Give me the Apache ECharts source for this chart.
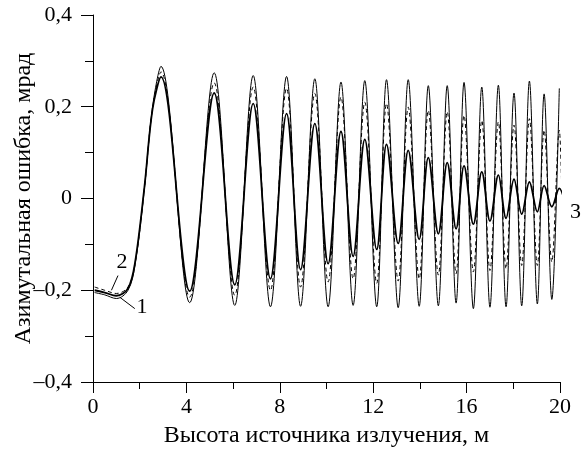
<!DOCTYPE html>
<html>
<head>
<meta charset="utf-8">
<script src="https://cdn.jsdelivr.net/npm/echarts@6/dist/echarts.min.js"></script>
<style>
html, body { margin: 0; padding: 0; background: #fff; }
#main { width: 585px; height: 451px; }
</style>
</head>
<body>
<div id="main"></div>
<script>
// высота источника, м (начало и экстремумы кривых)
const heights = [0.07, 0.5, 1.0, 1.5, 1.8, 2.2, 2.55, 2.91, 4.14, 5.19, 6.07, 6.86, 7.6, 8.29, 8.89, 9.5,
  10.07, 10.62, 11.14, 11.64, 12.15, 12.57, 13.07, 13.5, 13.97, 14.36, 14.79, 15.17, 15.55, 15.89,
  16.29, 16.65, 17.0, 17.36, 17.69, 18.03, 18.36, 18.69, 19.03, 19.32, 19.65, 19.97]

// азимутальная ошибка, мрад
const curve1 = [-0.205, -0.21, -0.218, -0.2, -0.145, 0.02, 0.2, 0.288, -0.227, 0.274, -0.233, 0.268,
  -0.236, 0.266, -0.235, 0.261, -0.236, 0.254, -0.233, 0.257, -0.236, 0.259, -0.238, 0.259, -0.235,
  0.246, -0.234, 0.246, -0.228, 0.253, -0.24, 0.243, -0.237, 0.247, -0.236, 0.23, -0.234, 0.256,
  -0.23, 0.228, -0.22, 0.24]
const curve2 = [-0.193, -0.2, -0.207, -0.193, -0.142, 0.022, 0.198, 0.276, -0.215, 0.252, -0.211, 0.243,
  -0.2, 0.24, -0.193, 0.229, -0.182, 0.221, -0.175, 0.21, -0.185, 0.207, -0.18, 0.199, -0.175,
  0.192, -0.167, 0.189, -0.164, 0.181, -0.16, 0.17, -0.157, 0.167, -0.153, 0.16, -0.146, 0.174,
  -0.146, 0.149, -0.138, 0.149]
const curve3 = [-0.2, -0.205, -0.212, -0.196, -0.14, 0.024, 0.195, 0.265, -0.202, 0.23, -0.188, 0.207,
  -0.175, 0.185, -0.155, 0.163, -0.142, 0.146, -0.126, 0.129, -0.111, 0.118, -0.098, 0.105, -0.089,
  0.089, -0.077, 0.078, -0.066, 0.071, -0.056, 0.058, -0.049, 0.051, -0.043, 0.042, -0.034, 0.036,
  -0.029, 0.028, -0.018, 0.022]
// хвосты кривых 2 и 3 за последним экстремумом
const curve2Tail = [20.07, 0.03]
const curve3Tail = [20.25, -0.02]

const xTicks = [0, 4, 8, 12, 16, 20]
const yTicks = [-0.4, -0.2, 0, 0.2, 0.4]

const font = 'Liberation Serif'
const fs = 22 // подписи делений
const nameFs = 24 // подписи осей

function pairs(ys) {
  return heights.map((h, i) => [h, ys[i]])
}
function fmt(v) {
  return String(Math.round(v * 10) / 10).replace('.', ',').replace('-', '–')
}

const chart = echarts.init(document.getElementById('main'))
chart.setOption({
  animation: false,
  grid: { left: 93, right: 25, top: 15, bottom: 69, containLabel: false, outerBoundsMode: 'none' },
  xAxis: {
    type: 'value',
    min: xTicks[0],
    max: xTicks[xTicks.length - 1],
    interval: xTicks[1] - xTicks[0],
    name: 'Высота источника излучения, м',
    nameLocation: 'middle',
    nameGap: 42,
    nameMoveOverlap: false,
    nameTextStyle: { color: '#000', fontFamily: font, fontSize: nameFs },
    axisLine: { onZero: false, lineStyle: { color: '#000', width: 1 } },
    axisTick: { inside: false, length: 11, lineStyle: { color: '#000' } },
    minorTick: { show: true, splitNumber: 2, length: 7, lineStyle: { color: '#000' } },
    axisLabel: { color: '#000', fontFamily: font, fontSize: fs, margin: 14, formatter: fmt },
    splitLine: { show: false }
  },
  yAxis: {
    type: 'value',
    min: yTicks[0],
    max: yTicks[yTicks.length - 1],
    interval: yTicks[1] - yTicks[0],
    name: 'Азимутальная ошибка, мрад',
    nameLocation: 'middle',
    nameGap: 57,
    nameMoveOverlap: false,
    nameTextStyle: { color: '#000', fontFamily: font, fontSize: nameFs },
    axisLine: { show: true, onZero: false, lineStyle: { color: '#000', width: 1 } },
    axisTick: { show: true, inside: false, length: 12, lineStyle: { color: '#000' } },
    minorTick: { show: true, splitNumber: 2, length: 8, lineStyle: { color: '#000' } },
    axisLabel: { color: '#000', fontFamily: font, fontSize: fs, margin: 21, formatter: fmt },
    splitLine: { show: false }
  },
  series: [{
    name: '1',
    type: 'line',
    data: pairs(curve1),
    smooth: 0.35,
    showSymbol: false,
    lineStyle: { color: '#000', width: 1 },
    markLine: {
      silent: true,
      symbol: 'none',
      label: { show: false },
      lineStyle: { color: '#000', width: 1, type: 'solid' },
      data: [[{ coord: [1.14, -0.215] }, { coord: [1.79, -0.24] }]]
    },
    markPoint: {
      symbol: 'circle',
      symbolSize: 1,
      itemStyle: { color: 'transparent' },
      label: { show: true, position: 'inside', formatter: '1', color: '#000', fontFamily: font, fontSize: fs },
      data: [{ coord: [2.1, -0.238] }]
    }
  }, {
    name: '2',
    type: 'line',
    data: pairs(curve2).concat([curve2Tail]),
    smooth: 0.35,
    showSymbol: false,
    lineStyle: { color: '#000', width: 1, type: [4, 3] },
    markLine: {
      silent: true,
      symbol: 'none',
      label: { show: false },
      lineStyle: { color: '#000', width: 1, type: 'solid' },
      data: [[{ coord: [0.79, -0.2] }, { coord: [1.07, -0.168] }]]
    },
    markPoint: {
      symbol: 'circle',
      symbolSize: 1,
      itemStyle: { color: 'transparent' },
      label: { show: true, position: 'inside', formatter: '2', color: '#000', fontFamily: font, fontSize: fs },
      data: [{ coord: [1.24, -0.138] }]
    }
  }, {
    name: '3',
    type: 'line',
    data: pairs(curve3).concat([curve3Tail]),
    smooth: 0.35,
    clip: false,
    showSymbol: false,
    lineStyle: { color: '#000', width: 1.8 },
    endLabel: {
      show: true,
      formatter: '3',
      color: '#000',
      fontFamily: font,
      fontSize: fs,
      distance: 8,
      offset: [0, 16]
    }
  }]
})
</script>
</body>
</html>
